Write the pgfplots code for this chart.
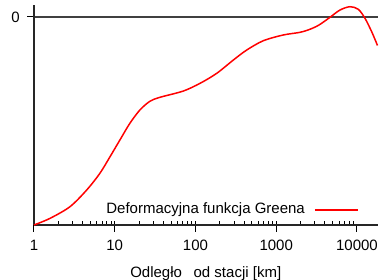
\documentclass[border=0pt]{standalone}
\usepackage{fontspec}
\setmainfont{Liberation Sans}
\usepackage{pgfplots}
\pgfplotsset{compat=1.18}
\begin{document}
\fontsize{15}{18}\selectfont
\begin{tikzpicture}
\path[use as bounding box] (-34pt,-55pt) rectangle (348pt,225pt);
\begin{axis}[
  at={(0,0)}, anchor=south west,
  scale only axis, width=343.5pt, height=220pt,
  xmode=log, xmin=1, xmax=17950,
  ymin=-1, ymax=0.0577,
  axis x line*=bottom, axis y line*=left,
  axis line style={line width=1.2pt, color=black!85, -},
  xtick={1,10,100,1000,10000},
  xticklabels={1,10,100,1000,10000},
  ytick={0}, yticklabels={0},
  ymajorgrids, grid style={line width=1.2pt, color=black!75},
  tick align=outside,
  major tick length=7pt, minor tick length=4pt,
  minor x tick style={yshift=4pt},
  tick style={line width=1pt, color=black},
  /pgf/number format/assume math mode=true,
  tick label style={font=\fontsize{15}{18}\selectfont},
  x tick label style={yshift=-3pt},
  y tick label style={xshift=-2pt},
  xlabel={Odległo\phantom{ś} od stacji [km]},
  xlabel style={font=\fontsize{15}{18}\selectfont, yshift=-5pt},
  clip=false,
]
\addplot[red, line width=1.5pt, smooth, tension=0.5] coordinates {
(1,-1) (1.58,-0.968) (2.79,-0.912) (4.49,-0.832) (6.56,-0.751) (8.73,-0.672)
(11.6,-0.591) (15.4,-0.511) (20.5,-0.447) (27.3,-0.405) (36.4,-0.386)
(70.6,-0.356) (113.7,-0.319) (183,-0.271) (294,-0.207) (430,-0.159)
(692,-0.114) (1222,-0.0865) (1968,-0.0737) (2617,-0.059) (3400,-0.038)
(4630,-0.0015) (6170,0.0337) (8190,0.0495) (10380,0.037) (12560,-0.0063)
(15200,-0.0707) (17950,-0.137)
};
\node[anchor=east, inner sep=0pt, font=\fontsize{15}{18}\selectfont] at (rel axis cs:0.789,0.068)
  {Deformacyjna funkcja Greena};
\draw[red, line width=1.5pt] (rel axis cs:0.818,0.068) -- (rel axis cs:0.943,0.068);
\end{axis}
\end{tikzpicture}
\end{document}
